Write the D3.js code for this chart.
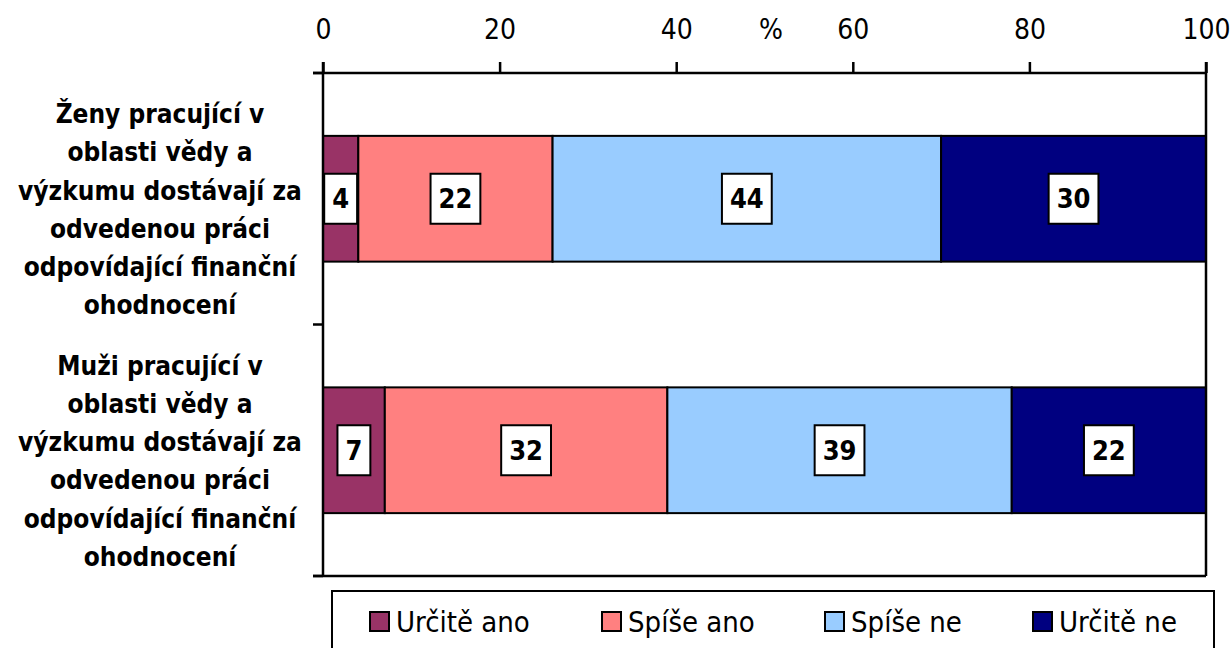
<!DOCTYPE html>
<html><head><meta charset="utf-8">
<script src="https://cdn.jsdelivr.net/npm/d3@7"></script>
<style>
body{margin:0;background:#fff;}
svg{display:block;font-family:"DejaVu Sans Condensed","DejaVu Sans",sans-serif;}
</style></head>
<body>
<script>
const categories = [
  "Ženy pracující v|oblasti vědy a|výzkumu dostávají za|odvedenou práci|odpovídající finanční|ohodnocení",
  "Muži pracující v|oblasti vědy a|výzkumu dostávají za|odvedenou práci|odpovídající finanční|ohodnocení"
];
const seriesNames = ["Určitě ano","Spíše ano","Spíše ne","Určitě ne"];
const seriesColors = ["#993366","#FF8080","#99CCFF","#000080"];
const urciteAno = [4, 7];
const spiseAno = [22, 32];
const spiseNe = [44, 39];
const urciteNe = [30, 22];
const tickValues = [0,20,40,60,80,100];
const axisTitle = "%";

const W=1232,H=648;
const svg=d3.select("body").append("svg").attr("width",W).attr("height",H);
const x=d3.scaleLinear().domain([0,100]).range([323,1206]);
const y=d3.scaleBand().domain(categories).range([73,576]).paddingInner(0.5).paddingOuter(0.25);
const seriesVals=[urciteAno,spiseAno,spiseNe,urciteNe];

// bars
categories.forEach((c,ci)=>{
  let acc=0;
  seriesVals.forEach((vals,si)=>{
    const v=vals[ci];
    svg.append("rect").attr("x",x(acc)).attr("y",y(c)).attr("width",x(acc+v)-x(acc)).attr("height",y.bandwidth())
      .attr("fill",seriesColors[si]).attr("stroke","#000").attr("stroke-width",2);
    acc+=v;
  });
});
// labels
categories.forEach((c,ci)=>{
  let acc=0;
  seriesVals.forEach((vals,si)=>{
    const v=vals[ci];
    const cx=(x(acc)+x(acc+v))/2, cy=y(c)+y.bandwidth()/2;
    const g=svg.append("g");
    const t=g.append("text").attr("x",cx).attr("y",cy).attr("text-anchor","middle").attr("dominant-baseline","central")
      .attr("font-weight","bold").attr("font-size",27).text(v);
    const bb=t.node().getBBox();
    g.insert("rect","text").attr("x",cx-bb.width/2-8).attr("y",cy-25).attr("width",bb.width+16).attr("height",50)
      .attr("fill","#fff").attr("stroke","#000").attr("stroke-width",2);
    acc+=v;
  });
});

// frame / axes
const frame=svg.append("g").attr("stroke","#000").attr("stroke-width",2.5);
frame.append("line").attr("x1",313).attr("x2",x(100)).attr("y1",73).attr("y2",73);
frame.append("line").attr("x1",313).attr("x2",x(100)).attr("y1",576).attr("y2",576);
frame.append("line").attr("x1",x(0)).attr("x2",x(0)).attr("y1",62).attr("y2",576);
frame.append("line").attr("x1",x(100)).attr("x2",x(100)).attr("y1",62).attr("y2",576);
// top ticks
const xa=d3.axisTop(x).tickValues(tickValues).tickSize(11).tickPadding(10);
const gx=svg.append("g").attr("transform","translate(0,73)").call(xa);
gx.select(".domain").remove();
gx.selectAll(".tick line").attr("stroke","#000").attr("stroke-width",2.5);
gx.selectAll(".tick text").attr("font-size",28).attr("fill","#000").attr("font-family","DejaVu Sans Condensed, DejaVu Sans, sans-serif")
  .attr("dy",null).attr("y",-34);
svg.append("text").attr("x",771).attr("y",39).attr("text-anchor","middle").attr("font-size",28).text(axisTitle);
// category boundary ticks
const bounds=[73, (y(categories[0])+y.bandwidth()+y(categories[1]))/2, 576];
bounds.forEach(b=>frame.append("line").attr("x1",313).attr("x2",x(0)).attr("y1",b).attr("y2",b));

// category labels
categories.forEach(c=>{
  const lines=c.split("|");
  const cy=y(c)+y.bandwidth()/2+11;
  const t=svg.append("text").attr("text-anchor","middle").attr("font-weight","bold").attr("font-size",26);
  lines.forEach((l,i)=>{
    t.append("tspan").attr("x",160).attr("y",cy+(i-(lines.length-1)/2)*38.2).attr("dominant-baseline","central").text(l);
  });
});

// legend
svg.append("rect").attr("x",332).attr("y",591).attr("width",882).attr("height",70).attr("fill","#fff").attr("stroke","#000").attr("stroke-width",2);
const legX=[370,602,825,1033];
seriesNames.forEach((n,i)=>{
  svg.append("rect").attr("x",legX[i]).attr("y",612).attr("width",19).attr("height",19).attr("fill",seriesColors[i]).attr("stroke","#000").attr("stroke-width",2);
  svg.append("text").attr("x",legX[i]+26).attr("y",632).attr("font-size",29).text(n);
});
</script>
</body></html>
